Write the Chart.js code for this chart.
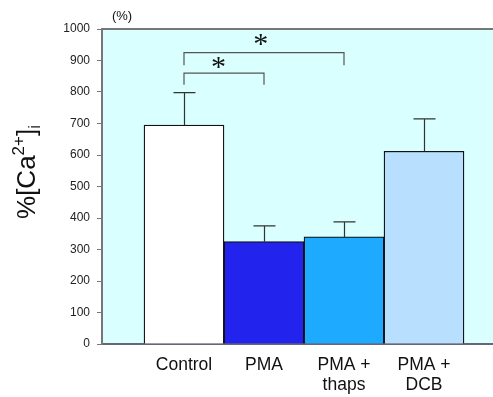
<!DOCTYPE html>
<html>
<head>
<meta charset="utf-8">
<script src="https://cdn.jsdelivr.net/npm/chart.js@4.4.1/dist/chart.umd.min.js"></script>
<style>
  body { margin: 0; background: #fff; }
  #wrap { width: 493px; height: 397px; position: relative; }
</style>
</head>
<body>
<div id="wrap"><canvas id="myChart"></canvas></div>
<script>
// values
var categories = [['Control'], ['PMA'], ['PMA +', 'thaps'], ['PMA +', 'DCB']];
var means = [695, 325, 340, 612];
var errors = [103, 50, 48, 103];
var barColors = ['#ffffff', '#2323ee', '#1eabff', '#b8dffe'];
var yTicks = [0, 100, 200, 300, 400, 500, 600, 700, 800, 900, 1000];
// significance brackets: from bar, to bar, level, leg bottom, star position
var brackets = [
    { from: 1, to: 3, y: 925, legEnd: 885, starX: 1.96, starY: 964 },
    { from: 1, to: 2, y: 860, legEnd: 823, starX: 1.43, starY: 893 }
];

var xPos = means.map(function (v, i) { return i + 1; });

// background of plot area + top frame line
var bgPlugin = {
    id: 'bg',
    beforeDraw: function (chart) {
        var a = chart.chartArea, c = chart.ctx;
        c.save();
        c.fillStyle = '#d9ffff';
        c.fillRect(a.left, a.top, a.right - a.left, a.bottom - a.top);
        c.strokeStyle = '#777';
        c.lineWidth = 2;
        c.beginPath();
        c.moveTo(a.left, a.top);
        c.lineTo(a.right, a.top);
        c.stroke();
        c.restore();
    }
};

// error bars, brackets, stars, axis title
var extrasPlugin = {
    id: 'extras',
    afterDatasetsDraw: function (chart) {
        var c = chart.ctx, x = chart.scales.x, y = chart.scales.y;
        c.save();
        // error bars (upper only)
        c.strokeStyle = '#333';
        c.lineWidth = 1.2;
        means.forEach(function (m, i) {
            var px = Math.round(x.getPixelForValue(xPos[i])) + 0.5;
            var top = y.getPixelForValue(m + errors[i]);
            c.beginPath();
            c.moveTo(px, y.getPixelForValue(m));
            c.lineTo(px, top);
            c.moveTo(px - 11, top);
            c.lineTo(px + 11, top);
            c.stroke();
        });
        // brackets
        c.strokeStyle = '#555';
        c.lineWidth = 1.2;
        brackets.forEach(function (b) {
            var x1 = x.getPixelForValue(b.from), x2 = x.getPixelForValue(b.to);
            var yy = y.getPixelForValue(b.y), ye = y.getPixelForValue(b.legEnd);
            c.beginPath();
            c.moveTo(x1, ye);
            c.lineTo(x1, yy);
            c.lineTo(x2, yy);
            c.lineTo(x2, ye);
            c.stroke();
            c.fillStyle = '#111';
            c.font = '30px "Liberation Serif"';
            c.textAlign = 'center';
            c.textBaseline = 'middle';
            c.fillText('*', x.getPixelForValue(b.starX), y.getPixelForValue(b.starY) + 5);
        });
        // unit label
        c.fillStyle = '#111';
        c.font = '13px "Liberation Sans"';
        c.textAlign = 'center';
        c.textBaseline = 'middle';
        c.fillText('(%)', 122, 16);

        // y axis title %[Ca2+]i, rotated
        c.translate(26, 172);
        c.rotate(-Math.PI / 2);
        c.textAlign = 'left';
        c.textBaseline = 'alphabetic';
        var big = '26px "Liberation Sans"', small = '17px "Liberation Sans"';
        c.font = big;
        var w1 = c.measureText('%[Ca').width, w3 = c.measureText(']').width;
        c.font = small;
        var w2 = c.measureText('2+').width, w4 = c.measureText('i').width;
        var total = w1 + w2 + w3 + w4;
        var sx = -total / 2, base = 9;
        c.font = big;
        c.fillText('%[Ca', sx, base);
        c.font = small;
        c.fillText('2+', sx + w1, base - 11);
        c.font = big;
        c.fillText(']', sx + w1 + w2, base);
        c.font = small;
        c.fillText('i', sx + w1 + w2 + w3, base + 5);
        c.restore();
    }
};

var ctx = document.getElementById('myChart').getContext('2d');
var myChart = new Chart(ctx, {
    type: 'bar',
    data: {
        datasets: [{
            data: means.map(function (v, i) { return { x: xPos[i], y: v }; }),
            backgroundColor: barColors,
            borderColor: '#111',
            borderWidth: 1.3,
            borderSkipped: 'bottom',
            barThickness: 80
        }]
    },
    options: {
        responsive: true,
        maintainAspectRatio: false,
        animation: false,
        layout: { padding: { top: 29, right: 0, left: 0, bottom: 0 } },
        plugins: {
            legend: { display: false },
            tooltip: { enabled: false }
        },
        scales: {
            x: {
                type: 'linear',
                offset: false,
                min: -0.025,
                max: 4.8625,
                afterBuildTicks: function (scale) {
                    scale.ticks = xPos.map(function (v) { return { value: v }; });
                },
                afterFit: function (scale) { scale.height = 53; },
                grid: { display: false },
                border: { color: '#667', width: 2 },
                ticks: {
                    autoSkip: false,
                    maxRotation: 0,
                    padding: 3,
                    color: '#111',
                    font: { family: 'Liberation Sans', size: 17.5, lineHeight: 1.15 },
                    callback: function (v) {
                        var i = xPos.indexOf(v);
                        return i >= 0 ? categories[i] : '';
                    }
                }
            },
            y: {
                min: 0,
                max: 1000,
                afterBuildTicks: function (scale) {
                    scale.ticks = yTicks.map(function (v) { return { value: v }; });
                },
                afterFit: function (scale) { scale.width = 102; },
                grid: { drawOnChartArea: false, drawTicks: true, tickLength: 5, color: '#777' },
                border: { color: '#777', width: 2 },
                ticks: {
                    padding: 7,
                    color: '#222',
                    font: { family: 'Liberation Sans', size: 12 },
                    callback: function (v) { return String(v); }
                }
            }
        }
    },
    plugins: [bgPlugin, extrasPlugin]
});
</script>
</body>
</html>
